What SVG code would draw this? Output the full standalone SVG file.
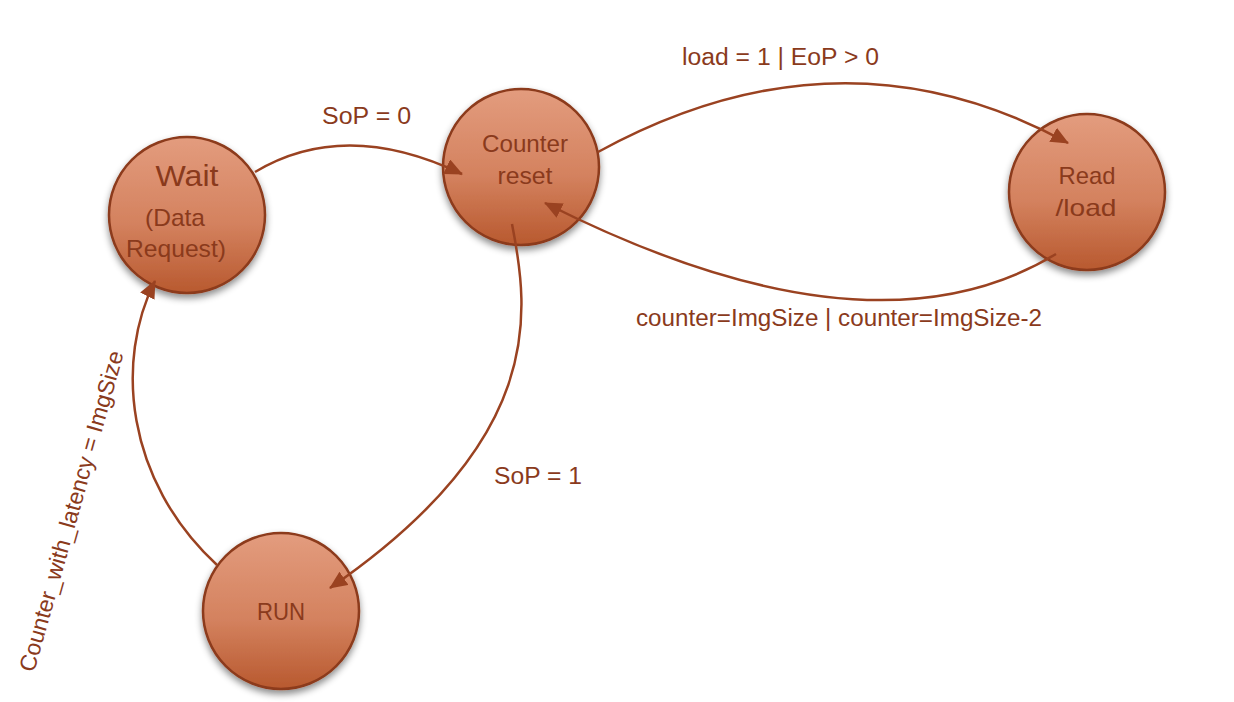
<svg xmlns="http://www.w3.org/2000/svg" width="1234" height="702" viewBox="0 0 1234 702">
<defs>
<linearGradient id="g" x1="0" y1="0" x2="0" y2="1">
<stop offset="0" stop-color="#e39c7e"/>
<stop offset="0.55" stop-color="#d4825f"/>
<stop offset="1" stop-color="#b8592f"/>
</linearGradient>
<filter id="sh" x="-20%" y="-20%" width="140%" height="150%">
<feDropShadow dx="0" dy="4" stdDeviation="3.5" flood-color="#000" flood-opacity="0.45"/>
</filter>
<marker id="ah" viewBox="0 0 18 16" refX="17" refY="8" markerWidth="18" markerHeight="16" markerUnits="userSpaceOnUse" orient="auto">
<path d="M0,0 L18,8 L0,16 Z" fill="#9a4221"/>
</marker>
</defs>
<style>
.node{fill:url(#g);stroke:#8c3a1b;stroke-width:2.5;filter:url(#sh)}
.nt{font-family:"Liberation Sans",Arial,sans-serif;font-size:24px;fill:#8a3a1c;text-anchor:middle}
.edge{fill:none;stroke:#9a4221;stroke-width:2.5;marker-end:url(#ah)}
.lbl{font-family:"Liberation Sans",Arial,sans-serif;font-size:23px;fill:#8a3a1c}
</style>
<rect width="1234" height="702" fill="#fff"/>
<g id="node-wait">
<circle class="node" cx="187" cy="215" r="78"/>
<text class="nt" x="187" y="186" style="font-size:30px" textLength="63" lengthAdjust="spacingAndGlyphs">Wait</text>
<text class="nt" x="175" y="226" textLength="60" lengthAdjust="spacingAndGlyphs">(Data</text>
<text class="nt" x="176" y="257" textLength="100" lengthAdjust="spacingAndGlyphs">Request)</text>
</g>
<g id="node-counter-reset">
<circle class="node" cx="521" cy="167" r="78"/>
<text class="nt" x="525" y="152" textLength="86" lengthAdjust="spacingAndGlyphs">Counter</text>
<text class="nt" x="525" y="184" textLength="55" lengthAdjust="spacingAndGlyphs">reset</text>
</g>
<g id="node-read-load">
<circle class="node" cx="1087" cy="192" r="78"/>
<text class="nt" x="1087" y="184" textLength="57" lengthAdjust="spacingAndGlyphs">Read</text>
<text class="nt" x="1086" y="216" textLength="61" lengthAdjust="spacingAndGlyphs">/load</text>
</g>
<g id="node-run">
<circle class="node" cx="281" cy="611" r="78"/>
<text class="nt" x="281" y="620" textLength="48" lengthAdjust="spacingAndGlyphs">RUN</text>
</g>
<g id="connectors">
<path class="edge" d="M255,172 Q345,118 462,174"/>
<path class="edge" d="M598,152 Q841,19 1068,143"/>
<path class="edge" d="M1056,254 Q870,367 545,203"/>
<path class="edge" d="M512,224 C530,315 545,440 330,588"/>
<path class="edge" d="M217,565 C125,480 115,360 155,281"/>
</g>
<g id="labels">
<text class="lbl" x="322" y="124" textLength="89" lengthAdjust="spacingAndGlyphs">SoP = 0</text>
<text class="lbl" x="682" y="65" textLength="197" lengthAdjust="spacingAndGlyphs">load = 1 | EoP &gt; 0</text>
<text class="lbl" x="636" y="326" textLength="406" lengthAdjust="spacingAndGlyphs">counter=ImgSize | counter=ImgSize-2</text>
<text class="lbl" x="494" y="484" textLength="88" lengthAdjust="spacingAndGlyphs">SoP = 1</text>
<text class="lbl" x="0" y="0" transform="translate(34,673) rotate(-74.3)" textLength="332" lengthAdjust="spacingAndGlyphs">Counter_with_latency = ImgSize</text>
</g>
</svg>
